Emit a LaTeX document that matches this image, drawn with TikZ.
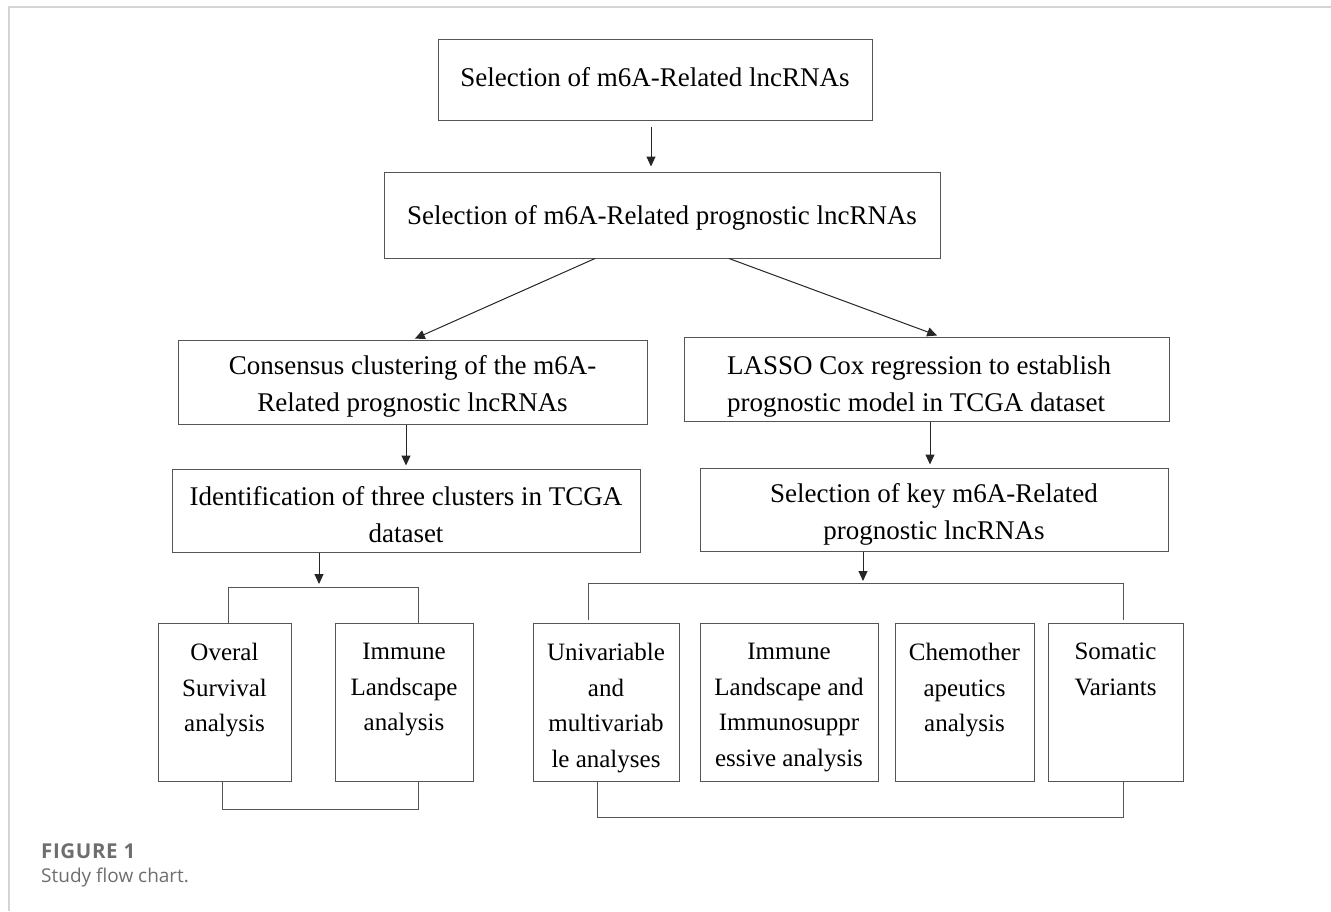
\documentclass[tikz,border=0pt]{standalone}
\usepackage{fontspec}
\setmainfont{Liberation Serif}
\newfontfamily\capfont{Open Sans}
\newfontfamily\capfontwide[LetterSpace=3]{Open Sans}
\usetikzlibrary{arrows.meta,calc}
\definecolor{edgecol}{HTML}{555555}
\definecolor{framecol}{HTML}{D4D4D4}
\definecolor{capgray}{HTML}{6E6E6E}
\begin{document}
\begin{tikzpicture}[x=1pt,y=-1pt,
  bigbox/.style={draw=edgecol, line width=1pt, inner sep=0pt},
  bigtxt/.style={inner sep=0pt, align=center, font=\fontsize{27}{37}\selectfont},
  smallbox/.style={draw=edgecol, line width=1pt, inner sep=0pt, minimum height=158pt},
  smalltxt/.style={anchor=north, inner sep=0pt, align=center,
    font=\fontsize{25}{35.7}\selectfont},
  ln/.style={draw=edgecol, line width=1pt},
  arr/.style={draw=black!85, line width=1pt, -{Triangle[length=10pt,width=9pt]}},
  captxt/.style={anchor=base west, inner sep=0pt, text=capgray}
]
\useasboundingbox (0,0) rectangle (1331,911);
% frame
\draw[framecol, line width=1.5pt] (9,911) -- (9,7) -- (1331,7);

% big boxes
\node[bigbox, minimum width=434pt, minimum height=81pt] (b1) at (655,79.5) {};
\node[bigbox, minimum width=556pt, minimum height=86pt] (b2) at (662,215) {};
\node[bigbox, minimum width=469pt, minimum height=84pt] (b3) at (412.5,382) {};
\node[bigbox, minimum width=485pt, minimum height=84pt] (b4) at (926.5,379) {};
\node[bigbox, minimum width=468pt, minimum height=83pt] (b5) at (406,510.5) {};
\node[bigbox, minimum width=468pt, minimum height=83pt] (b6) at (934,509.5) {};

\node[bigtxt] (t1) at (655,77.5) {Selection of m6A-Related lncRNAs};
\node[bigtxt] (t2) at (662,218) {Selection of m6A-Related prognostic lncRNAs};
\node[bigtxt] (t3) at (412.5,386) {Consensus clustering of the m6A-\\Related prognostic lncRNAs};
\node[bigtxt, align=left, anchor=west] (t4) at (727,387) {LASSO Cox regression to establish\\prognostic model in TCGA dataset};
\node[bigtxt] (t5) at (406,514.5) {Identification of three clusters in TCGA\\dataset};
\node[bigtxt] (t6) at (934,514.5) {Selection of key m6A-Related\\prognostic lncRNAs};

% small boxes
\node[smallbox, minimum width=133pt] (b7) at (224.5,702) {};
\node[smallbox, minimum width=138pt] (b8) at (404,702) {};
\node[smallbox, minimum width=146pt] (b9) at (606,702) {};
\node[smallbox, minimum width=178pt] (b10) at (789,702) {};
\node[smallbox, minimum width=139pt] (b11) at (964.5,702) {};
\node[smallbox, minimum width=135pt] (b12) at (1115.5,702) {};

\node[smalltxt] (t7) at (224.5,643) {Overal\\Survival\\analysis};
\node[smalltxt] (t8) at (404,643) {Immune\\Landscape\\analysis};
\node[smalltxt] (t9) at (606,643) {Univariable\\and\\multivariab\\le analyses};
\node[smalltxt] (t10) at (789,643) {Immune\\Landscape and\\Immunosuppr\\essive analysis};
\node[smalltxt] (t11) at (964.5,643) {Chemother\\apeutics\\analysis};
\node[smalltxt] (t12) at (1115.5,643) {Somatic\\Variants};

% helper coordinates
\coordinate (x1) at (651,0);
\coordinate (s2l) at (595,0);
\coordinate (s2r) at (729,0);
\coordinate (e3) at (413,0);
\coordinate (e4) at (940,0);
\coordinate (x35) at (406,0);
\coordinate (x46) at (930,0);
\coordinate (jl) at (319,587);
\coordinate (jr) at (863,583);
\coordinate (l1) at (228,587);
\coordinate (r1) at (418,587);
\coordinate (bl1) at (222,809);
\coordinate (br1) at (418,809);
\coordinate (l2) at (588,583);
\coordinate (r2) at (1123,583);
\coordinate (l2e) at (588,620);
\coordinate (r2e) at (1123,620);
\coordinate (bl2) at (597,817);
\coordinate (br2) at (1123,817);

% arrows
\draw[arr, shorten <=6pt, shorten >=5pt] (b1.south -| x1) -- (b2.north -| x1);
\draw[arr, shorten >=2pt] (b2.south -| s2l) -- (b3.north -| e3);
\draw[arr, shorten >=3pt] (b2.south -| s2r) -- (b4.north -| e4);
\draw[arr, shorten >=3pt] (b3.south -| x35) -- (b5.north -| x35);
\draw[arr, shorten >=3pt] (b4.south -| x46) -- (b6.north -| x46);
\draw[arr, shorten >=3pt] (b5.south -| jl) -- (jl);
\draw[arr, shorten >=2pt] (b6.south -| jr) -- (jr);

% brackets
\draw[ln] (b7.north -| l1) -- (l1) -- (r1) -- (b8.north -| r1);
\draw[ln] (b7.south -| bl1) -- (bl1) -- (br1) -- (b8.south -| br1);
\draw[ln] (l2e) -- (l2) -- (r2) -- (r2e);
\draw[ln] (b9.south -| bl2) -- (bl2) -- (br2) -- (b12.south -| br2);

% caption
\node[captxt, font=\capfontwide\bfseries\fontsize{20.5}{24}\selectfont] (cap1) at (41,858) {FIGURE 1};
\node[captxt, font=\capfont\fontsize{19}{23}\selectfont] (cap2) at (41,882) {Study flow chart.};
\end{tikzpicture}
\end{document}
